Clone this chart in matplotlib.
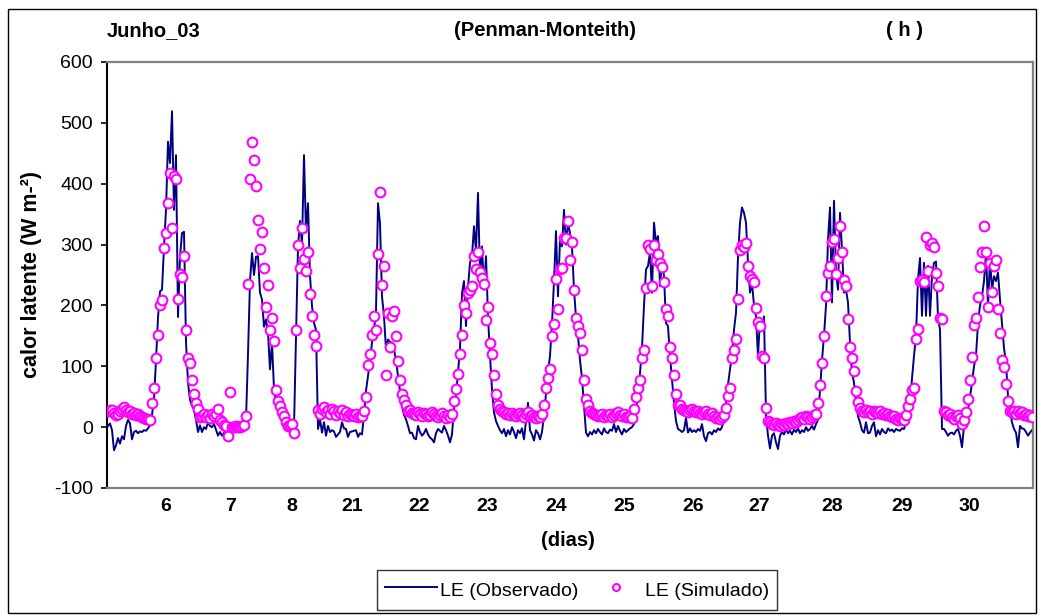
import numpy as np
import matplotlib.pyplot as plt
from matplotlib.lines import Line2D
from matplotlib.patches import Rectangle

plt.rcParams['font.family'] = ['Liberation Sans', 'DejaVu Sans']
plt.rcParams['axes.unicode_minus'] = False

# LE observado (W m-2), amostras consecutivas dos dias 6-8 e 21-30 de junho
le_obs = [
    2, 6, -5, -38, -30, -18, -27, -15, -20, 2, 12, 6, -20, -8, -6, -10, -7, -8, -5, -6, -2, 3,
    20, 46, 110, 180, 223, 226, 296, 357, 469, 434, 519, 357, 447, 181, 279, 319, 321, 140, 73, 45, 35, 29, 12, -8, 3,
    -8, 0, -3, 8, 2, 0, 5, -4, -14, -8, -14, -10, -3, 0, -1, 0, 2, -1, 0, 1, 0, 0,
    12, 120, 240, 286, 250, 280, 281, 221, 210, 165, 177, 155, 95, 139, 62, 40, 30, 18, 10, 5, 2, 0,
    -3, -4, 0, 150, 296, 339, 300, 447, 320, 368, 249, 199, 171, 160,
    -3, 13, -9, 8, -14, 2, -8, -5, -7, -16, -12, -8, 8, -2, -3, -16, -8, -7, -6, -5, -16, -10, -12, 20,
    60, 84, 110, 139, 160, 190, 368, 335, 215, 182, 128, 144, 140, 139, 128, 110, 84, 60, 35, 20, 13, 2, -10,
    -9, -18, -20, 2, -8, -14, -10, -3, -12, -17, -20, -25, -10, -3, -6, -9, 2, -5, -14, -25, -12,
    30, 50, 90, 130, 220, 240, 166, 230, 270, 281, 330, 290, 385, 250, 297, 226, 281, 182, 117, 62, 24, 10, 2,
    -5, -10, -3, -15, -5, -12, 0, -8, -18, -5, -10, -2, -20, 10, 40, -5, -12, -22, -5, -10, -20, -8,
    20, 55, 90, 117, 170, 240, 322, 215, 308, 297, 357, 300, 335, 319, 297, 226, 180, 150, 110, 80, 35, -9, -15, -8,
    -12, -5, -10, -3, -8, -12, -2, -8, -10, -4, -6, 5, -8, 2, -6, -12, -3, -8, -5, -2, 0,
    5, 25, 55, 89, 130, 200, 259, 265, 287, 221, 336, 303, 314, 232, 270, 248, 171, 166, 117, 79, 40, 10, -3,
    -5, -8, -5, 15, -9, -2, -8, -5, -8, -3, -6, 5, -15, -23, -10, -8, -12, -5, -8, -2, -5, 0,
    12, 40, 70, 95, 120, 160, 188, 280, 336, 361, 352, 336, 270, 221, 237, 200, 182, 117, 177, 160, 182, 20, -14,
    -35, -14, -10, -25, -36, -14, -8, -12, -3, -10, -6, -12, -4, -8, -2, -10, -5, -8, 0, -6, -3, 2, -4, 5,
    12, 62, 110, 150, 200, 308, 361, 205, 372, 254, 226, 352, 292, 221, 226, 205, 139, 90, 73, 40, 18, 8, -5, -9,
    8, -10, -9, 2, 8, -15, -5, -12, -3, -8, -10, -2, -6, -4, -8, -3, -5, -6, -2, -3, 8,
    20, 35, 80, 117, 150, 243, 278, 183, 270, 183, 265, 183, 248, 270, 272, 180, 160, -3, -3,
    -8, -14, -10, -9, -12, -6, -3, -14, -33, 2,
    10, 29, 50, 73, 100, 117, 171, 200, 215, 240, 286, 199, 276, 226, 248, 240, 254, 210, 171, 130, 106, 50, 29,
    8, -3, -9, -33, 2, -2, -3, -8, -14, -9, -5,
]

# LE simulado (Penman-Monteith), mesmas amostras
le_sim = [
    27, 28, 28, 24, 20, 22, 27, 30, 33, 28, 25, 27, 22, 23, 20, 21, 18, 17, 15, 13, 14, 12,
    40, 64, 113, 151, 200, 209, 295, 319, 369, 418, 327, 413, 408, 211, 252, 247, 281, 159, 114, 106, 78, 54, 40, 29, 16,
    19, 22, 17, 20, 15, 21, 18, 22, 29, 12, 8, 4, 2, -14, 57, 0, 1, 2, 0, 1, 2, 3,
    19, 236, 408, 468, 439, 397, 341, 292, 320, 261, 197, 233, 159, 180, 142, 61, 43, 34, 25, 19, 9, 2,
    3, 5, -10, 159, 299, 261, 328, 277, 256, 288, 218, 182, 151, 134,
    28, 22, 30, 33, 25, 28, 22, 30, 27, 20, 26, 23, 28, 20, 25, 18, 22, 20, 19, 22, 17, 18, 19, 27,
    50, 102, 120, 151, 183, 159, 285, 387, 233, 264, 85, 187, 132, 183, 191, 150, 108, 77, 54, 45, 37, 26, 28,
    24, 22, 20, 25, 22, 19, 24, 22, 18, 20, 25, 22, 18, 17, 20, 24, 18, 15, 20, 17, 22,
    43, 63, 88, 120, 151, 200, 187, 221, 226, 232, 281, 260, 288, 255, 245, 236, 176, 197, 138, 120, 85, 54, 37,
    30, 27, 25, 22, 24, 20, 23, 20, 18, 22, 24, 20, 17, 22, 25, 18, 20, 16, 15, 18, 16, 22,
    37, 65, 80, 96, 149, 170, 243, 194, 260, 261, 310, 311, 338, 274, 305, 225, 180, 166, 154, 127, 77, 47, 37, 26,
    24, 22, 20, 18, 20, 22, 17, 20, 18, 22, 16, 20, 23, 25, 20, 18, 22, 17, 16, 18, 15,
    30, 50, 64, 78, 113, 127, 228, 300, 292, 232, 299, 274, 285, 270, 263, 239, 194, 183, 131, 113, 85, 54, 37,
    37, 30, 28, 27, 25, 28, 30, 27, 25, 26, 24, 22, 25, 27, 22, 20, 23, 18, 15, 17, 14, 16,
    20, 31, 51, 64, 113, 127, 145, 211, 291, 300, 296, 302, 264, 248, 244, 239, 196, 173, 166, 117, 113, 32, 10,
    8, 5, 3, 6, 4, 2, 5, 3, 7, 5, 8, 6, 10, 8, 12, 15, 16, 14, 18, 16, 14, 17, 20, 22,
    40, 70, 105, 150, 215, 254, 264, 305, 309, 251, 278, 330, 288, 242, 232, 177, 131, 113, 92, 60, 41, 32, 27, 25,
    28, 25, 27, 22, 26, 25, 23, 27, 22, 24, 20, 22, 18, 16, 19, 14, 12, 15, 13, 12, 20,
    35, 46, 61, 65, 145, 162, 240, 241, 238, 313, 257, 299, 303, 296, 253, 232, 180, 177, 27,
    25, 20, 22, 17, 14, 18, 20, 15, 5, 11,
    25, 46, 77, 116, 168, 179, 214, 263, 288, 330, 288, 197, 270, 222, 264, 274, 194, 155, 110, 99, 71, 43, 27,
    25, 27, 22, 26, 24, 25, 20, 22, 18, 20, 17,
]

dias = ['6', '7', '8', '21', '22', '23', '24', '25', '26', '27', '28', '29', '30']
pos_dias = [29, 61.5, 92, 122, 155.5, 189.5, 224, 258, 292.5, 325.5, 362, 397, 430.5]

W, H = 1040, 615
fig = plt.figure(figsize=(W / 100, H / 100), dpi=100)
ax = fig.add_axes([107 / W, 1 - 488 / H, 926 / W, 426 / H])

x_obs = np.arange(len(le_obs))
x_sim = np.arange(len(le_sim))
ax.plot(x_obs, le_obs, color='#000080', lw=1.4, zorder=2)
ax.plot(x_sim, le_sim, ls='none', marker='o', ms=7, mfc='white',
        mec='#FF00FF', mew=1.5, zorder=3)

ax.set_xlim(-0.5, len(le_obs) - 0.5)
ax.set_ylim(-100, 600)
ax.set_yticks(range(-100, 601, 100))
ax.set_xticks(pos_dias)
ax.set_xticklabels(dias, fontweight='bold', fontsize=14)
ax.tick_params(axis='x', length=0, pad=7)
ax.tick_params(axis='y', direction='out', length=4, width=1.2,
               labelsize=14, pad=6)

for s in ['top', 'right', 'bottom']:
    ax.spines[s].set_color('#808080')
    ax.spines[s].set_linewidth(1.6)
ax.spines['left'].set_color('black')
ax.spines['left'].set_linewidth(1.5)

# titulos e rotulos dos eixos
yt = 1 - 31 / H
fig.text(107 / W, yt, 'Junho_03', fontsize=14.5, fontweight='bold', ha='left', va='center')
fig.text(545 / W, yt, '(Penman-Monteith)', fontsize=14.5, fontweight='bold', ha='center', va='center')
fig.text(905 / W, yt, '( h )', fontsize=14.5, fontweight='bold', ha='center', va='center')
fig.text(32 / W, 1 - 275 / H, 'calor latente (W m-²)', fontsize=15.5, fontweight='bold',
         rotation=90, ha='center', va='center')
fig.text(568 / W, 1 - 540 / H, '(dias)', fontsize=14.5, fontweight='bold', ha='center', va='center')

handles = [Line2D([], [], color='#000080', lw=1.4),
           Line2D([], [], ls='none', marker='o', ms=5, mfc='white', mec='#FF00FF', mew=1.5)]
leg = fig.legend(handles, ['LE (Observado)', 'LE (Simulado)'], loc='center',
                 bbox_to_anchor=(577 / W, 1 - 590 / H), ncol=2, frameon=True,
                 fancybox=False, edgecolor='black', fontsize=14, handlelength=2.7,
                 handleheight=1.6, handletextpad=0.15, columnspacing=0.6, borderpad=0.4)
leg.get_frame().set_linewidth(1.0)

# moldura externa
fig.add_artist(Rectangle((8 / W, 1 - 613 / H), 1028 / W, 604 / H, transform=fig.transFigure,
                         fill=False, ec='black', lw=1.0))

fig.savefig('out.png', dpi=100)
